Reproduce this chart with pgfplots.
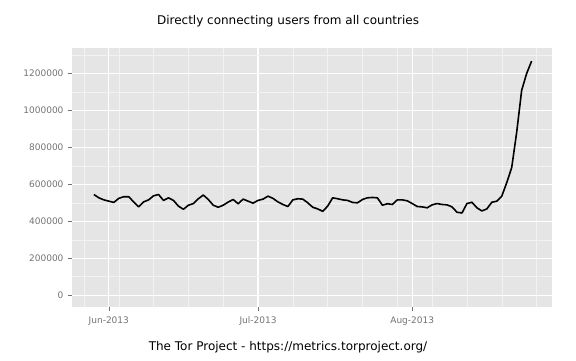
\documentclass[border=0pt]{standalone}
\usepackage{pgfplots}
\pgfplotsset{compat=1.18}
\usepackage{fontspec}
\setmainfont{DejaVu Sans}
\definecolor{panelbg}{HTML}{E5E5E5}
\definecolor{minorgrid}{HTML}{F2F2F2}
\definecolor{ticktext}{HTML}{737373}
\begin{document}
\begin{tikzpicture}
\begin{axis}[
  name=ax,
  scale only axis,
  width=480pt, height=259pt,
  xmin=-7.4, xmax=89.1,
  ymin=-64000, ymax=1338000,
  axis background/.style={fill=panelbg},
  axis line style={draw=none},
  xtick={0,30,61},
  xticklabels={Jun-2013,Jul-2013,Aug-2013},
  minor xtick={-5,2,9,16,23,37,44,51,58,65,72,79,86},
  ytick={0,200000,400000,600000,800000,1000000,1200000},
  minor ytick={100000,300000,500000,700000,900000,1100000,1300000},
  scaled y ticks=false,
  yticklabel={\pgfmathprintnumber[fixed,precision=0,1000 sep={}]{\tick}},
  /pgf/number format/assume math mode=true,
  grid=both,
  major grid style={white, line width=1.1pt},
  minor grid style={minorgrid, line width=0.5pt},
  xtick pos=left, ytick pos=left,
  tick align=outside,
  major tick length=4pt,
  minor tick length=0pt,
  tick style={color=ticktext, line width=0.6pt},
  ticklabel style={font=\fontsize{9}{10}\selectfont, text=ticktext},
  xticklabel style={yshift=-2pt},
  yticklabel style={xshift=-1pt},
  title={Directly connecting users from all countries},
  title style={at={(rel axis cs:0.45,1)}, anchor=center, yshift=21pt, font=\fontsize{12}{14}\selectfont},
  xlabel={The Tor Project - https://metrics.torproject.org/},
  xlabel style={at={(rel axis cs:0.45,0)}, anchor=center, yshift=-40pt, font=\fontsize{12}{14}\selectfont},
]
\addplot[black, line width=1.6pt, line join=round, mark=none] coordinates {
(-3,545000) (-2,527000) (-1,516000) (0,509000) (1,502000) (2,524000) (3,533000) (4,533000)
(5,505000) (6,478000) (7,505000) (8,516000) (9,538000) (10,545000) (11,513000) (12,527000)
(13,513000) (14,482000) (15,465000) (16,487000) (17,496000) (18,522000) (19,542000) (20,518000)
(21,487000) (22,476000) (23,487000) (24,504000) (25,518000) (26,495000) (27,520000) (28,509000)
(29,498000) (30,513000) (31,520000) (32,536000) (33,524000) (34,505000) (35,491000) (36,480000)
(37,516000) (38,522000) (39,520000) (40,500000) (41,476000) (42,467000) (43,454000) (44,482000)
(45,527000) (46,522000) (47,516000) (48,513000) (49,502000) (50,500000) (51,518000) (52,527000)
(53,529000) (54,527000) (55,487000) (56,495000) (57,491000) (58,516000) (59,516000) (60,511000)
(61,496000) (62,480000) (63,478000) (64,473000) (65,489000) (66,496000) (67,491000) (68,489000)
(69,478000) (70,449000) (71,445000) (72,496000) (73,503000) (74,473000) (75,456000) (76,467000)
(77,503000) (78,509000) (79,536000) (80,609000) (81,691000) (82,882000) (83,1109000) (84,1200000)
(85,1267000)
};
\end{axis}
\pgfresetboundingbox
\path[use as bounding box] ([shift={(-72pt,-53pt)}]ax.south west) rectangle ([shift={(24pt,48pt)}]ax.north east);
\end{tikzpicture}
\end{document}
